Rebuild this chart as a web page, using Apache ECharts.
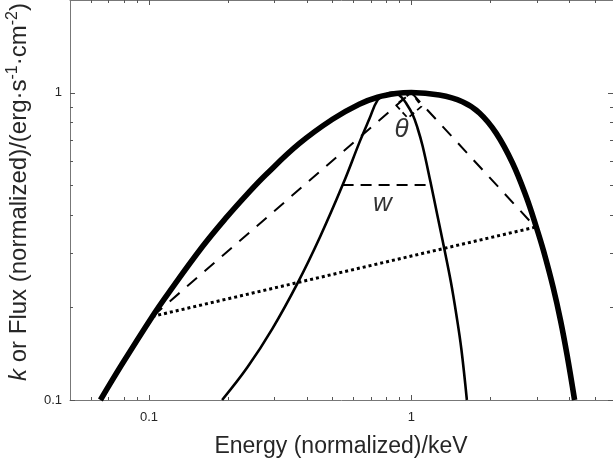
<!DOCTYPE html>
<html>
<head>
<meta charset="utf-8">
<script src="https://cdn.jsdelivr.net/npm/echarts@6/dist/echarts.min.js"></script>
<style>
  html, body { margin: 0; padding: 0; background: #fff; }
  #chart { width: 613px; height: 462px; }
</style>
</head>
<body>
<div id="chart"></div>
<script>
// Broad spectrum (thick curve): energy vs normalized flux
const broadE = [0.0653, 0.0791, 0.103, 0.1192, 0.1597, 0.1962, 0.2407, 0.2788, 0.3736, 0.5007, 0.633, 0.7436, 0.874, 1.0, 1.279, 1.565, 1.818, 2.105, 2.430, 2.741, 2.992, 3.190, 3.468, 3.705, 3.923, 4.19];
const broadF = [0.100, 0.1311, 0.187, 0.2240, 0.315, 0.3903, 0.4745, 0.5404, 0.6818, 0.8188, 0.9161, 0.9654, 0.9925, 1.0, 0.981, 0.933, 0.858, 0.738, 0.590, 0.458, 0.366, 0.3056, 0.2332, 0.1812, 0.140, 0.100];

// Narrow spectrum (thin curve)
const narrowE = [0.19, 0.2372, 0.2955, 0.368, 0.4486, 0.547, 0.6375, 0.6914, 0.7436, 0.796, 0.85, 0.913, 0.957, 1.0115, 1.057, 1.104, 1.182, 1.256, 1.336, 1.415, 1.485, 1.551, 1.628];
const narrowF = [0.100, 0.1277, 0.1707, 0.2395, 0.3391, 0.500, 0.6963, 0.8199, 0.945, 0.985, 1.0, 0.969, 0.921, 0.848, 0.764, 0.670, 0.5135, 0.3996, 0.3097, 0.2419, 0.189, 0.1465, 0.100];

// Angle construction: base points on the broad curve and its peak
const baseLeft = [0.103, 0.187];
const peakPt = [1.0, 1.0];
const baseRight = [2.97, 0.365];

// Small angle marker at the peak
const angleMark = [[1.0, 1.0], [0.872, 0.912], [0.970, 0.826], [1.094, 0.902], [1.0, 1.0]];

// Half-maximum width of the narrow curve
const widthLine = [[0.547, 0.5], [1.185, 0.5]];

// Annotation texts and their anchor points
const noteText = ['θ', 'w'];
const notePos = [[0.918, 0.759], [0.775, 0.434]];

// Axis ticks
const xMajor = [0.1, 1];
const xMinor = [0.06, 0.07, 0.08, 0.09, 0.2, 0.3, 0.4, 0.5, 0.6, 0.7, 0.8, 0.9, 2, 3, 4, 5];
const yMajor = [0.1, 1];
const yMinor = [0.2, 0.3, 0.4, 0.5, 0.6, 0.7, 0.8, 0.9];
const xRange = [0.05, 5.87];
const yRange = [0.1, 2];

const axisGray = '#777777';
const tickGray = '#555555';
const textGray = '#262626';
const FONT = 'Liberation Sans, Arial, sans-serif';

function mkAxis(kind, position, labels) {
  const range = kind === 'x' ? xRange : yRange;
  return {
    type: 'log',
    logBase: 10,
    position: position,
    min: range[0],
    max: range[1],
    splitLine: { show: false },
    axisLine: { show: true, lineStyle: { color: axisGray, width: 1 } },
    axisTick: { show: false },
    axisLabel: labels ? {
      show: true, customValues: labels, color: textGray, fontSize: 13,
      fontFamily: FONT,
      margin: kind === 'x' ? 11 : 8,
      formatter: v => String(+(+v).toPrecision(3))
    } : { show: false }
  };
}

const pairs = (xs, ys) => xs.map((x, i) => [x, ys[i]]);

// Tick marks on all four sides, drawn inward through the axis scales
const xTickVals = xMajor.concat(xMinor);
const xTickLen = xMajor.map(() => 5).concat(xMinor.map(() => 3));
const yTickVals = yMajor.concat(yMinor);
const yTickLen = yMajor.map(() => 5).concat(yMinor.map(() => 3));
const tickStyle = { stroke: tickGray, lineWidth: 1 };

function xTickItem(params, api) {
  const v = api.value(0);
  const len = xTickLen[params.dataIndex];
  const b = api.coord([v, yRange[0]]);
  const t = api.coord([v, yRange[1]]);
  const x = Math.round(b[0]) + 0.5;
  return {
    type: 'group', children: [
      { type: 'line', shape: { x1: x, y1: b[1], x2: x, y2: b[1] - len }, style: tickStyle },
      { type: 'line', shape: { x1: x, y1: t[1], x2: x, y2: t[1] + len }, style: tickStyle }
    ]
  };
}
function yTickItem(params, api) {
  const v = api.value(1);
  const len = yTickLen[params.dataIndex];
  const l = api.coord([xRange[0], v]);
  const r = api.coord([xRange[1], v]);
  const y = Math.round(l[1]) + 0.5;
  return {
    type: 'group', children: [
      { type: 'line', shape: { x1: l[0], y1: y, x2: l[0] + len, y2: y }, style: tickStyle },
      { type: 'line', shape: { x1: r[0], y1: y, x2: r[0] - len, y2: y }, style: tickStyle }
    ]
  };
}

const chart = echarts.init(document.getElementById('chart'), null, { renderer: 'canvas' });

chart.setOption({
  animation: false,
  backgroundColor: '#fff',
  grid: { left: 70, right: 0, top: 0, bottom: 62, containLabel: false },
  xAxis: [mkAxis('x', 'bottom', xMajor), mkAxis('x', 'top', null)],
  yAxis: [mkAxis('y', 'left', yMajor), mkAxis('y', 'right', null)],
  graphic: [
    {
      type: 'text', x: 341, y: 447,
      style: {
        text: 'Energy (normalized)/keV', fill: textGray, fontSize: 23,
        fontFamily: FONT, align: 'center', verticalAlign: 'middle'
      }
    },
    {
      type: 'text', x: 19, y: 192, rotation: Math.PI / 2,
      style: {
        text: '{i|k} or Flux (normalized)/(erg·s{s|-1}·cm{s|-2})',
        fill: textGray, fontSize: 24, lineHeight: 28,
        fontFamily: FONT, align: 'center', verticalAlign: 'middle',
        rich: {
          i: { fontStyle: 'italic', fontSize: 24, lineHeight: 28, fill: textGray, fontFamily: FONT },
          s: { fontSize: 16, lineHeight: 16, verticalAlign: 'top', fill: textGray, fontFamily: FONT }
        }
      }
    }
  ],
  series: [
    {
      name: 'xticks', type: 'custom', xAxisIndex: 0, yAxisIndex: 0,
      data: xTickVals.map(v => [v, 1]), renderItem: xTickItem, silent: true, z: 1
    },
    {
      name: 'yticks', type: 'custom', xAxisIndex: 0, yAxisIndex: 0,
      data: yTickVals.map(v => [1, v]), renderItem: yTickItem, silent: true, z: 1
    },
    {
      name: 'narrow', type: 'line', data: pairs(narrowE, narrowF), showSymbol: false,
      smooth: 0.4, lineStyle: { color: '#000', width: 2.6 }, z: 3
    },
    {
      name: 'broad', type: 'line', data: pairs(broadE, broadF), showSymbol: false,
      smooth: 0.4, lineStyle: { color: '#000', width: 5.6 }, z: 4
    },
    {
      name: 'sideL', type: 'line', data: [baseLeft, peakPt], showSymbol: false,
      lineStyle: { color: '#000', width: 2, type: [13, 10] }, z: 5
    },
    {
      name: 'sideR', type: 'line', data: [peakPt, baseRight], showSymbol: false,
      lineStyle: { color: '#000', width: 2, type: [13, 10] }, z: 5
    },
    {
      name: 'base', type: 'line', data: [baseLeft, baseRight], showSymbol: false,
      lineStyle: { color: '#000', width: 3, type: [3, 3] }, z: 5
    },
    {
      name: 'angle', type: 'line', data: angleMark, showSymbol: false,
      lineStyle: { color: '#000', width: 1.8, type: [6, 4] }, z: 5
    },
    {
      name: 'width', type: 'line', data: widthLine, showSymbol: false,
      lineStyle: { color: '#000', width: 2, type: [11, 7] }, z: 5
    },
    {
      name: 'notes', type: 'scatter',
      data: notePos.map((p, i) => ({ value: p, name: noteText[i] })),
      symbolSize: 1, itemStyle: { color: 'rgba(0,0,0,0)' },
      label: {
        show: true, position: 'inside', formatter: p => p.name,
        color: '#000', fontSize: 26, fontStyle: 'italic', fontFamily: FONT
      }, z: 6
    }
  ]
});
</script>
</body>
</html>
